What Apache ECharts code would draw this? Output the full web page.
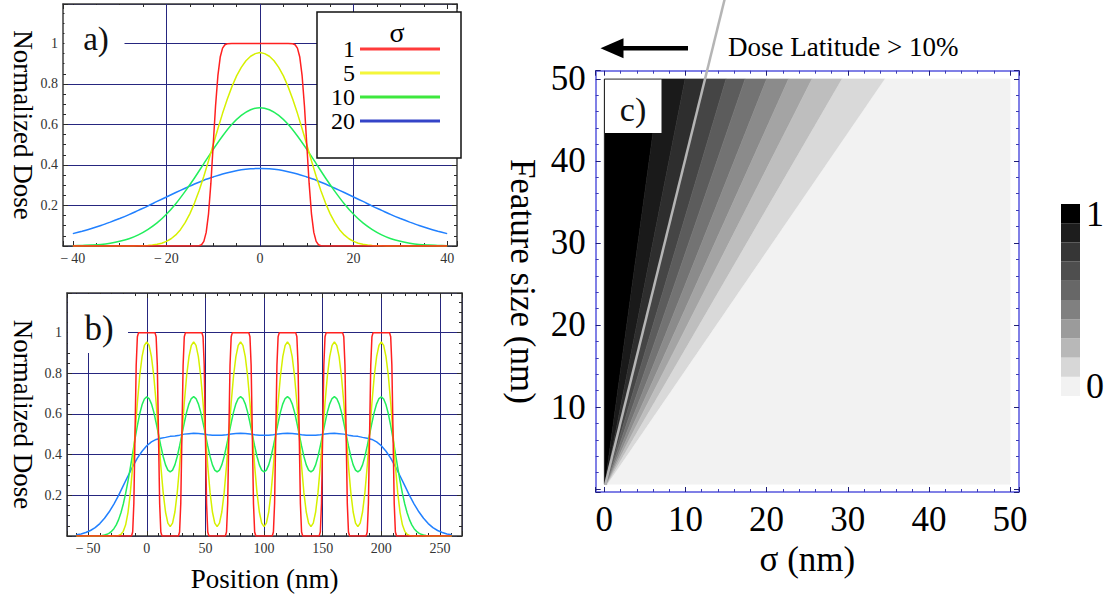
<!DOCTYPE html>
<html>
<head>
<meta charset="utf-8">
<script src="https://cdn.jsdelivr.net/npm/echarts@6/dist/echarts.min.js"></script>
<style>
  html, body { margin: 0; padding: 0; background: #fff; }
  #chart { width: 1108px; height: 599px; }
</style>
</head>
<body>
<div id="chart"></div>
<script>
const SERIF = "'Liberation Serif', 'Times New Roman', serif";

// ---- a) dose across a single 20 nm line, x in nm ----
const aSig1 = [[-40,0],[-14,0],[-13,0.001],[-12.5,0.006],[-12,0.023],[-11.5,0.067],[-11,0.159],[-10.5,0.309],[-10,0.5],
  [-9.5,0.691],[-9,0.841],[-8.5,0.933],[-8,0.977],[-7.5,0.994],[-7,0.999],[-6,1],[6,1],[7,0.999],[7.5,0.994],[8,0.977],
  [8.5,0.933],[9,0.841],[9.5,0.691],[10,0.5],[10.5,0.309],[11,0.159],[11.5,0.067],[12,0.023],[12.5,0.006],[13,0.001],[14,0],[40,0]];
const aSig5 = [[-40,0],[-28,0],[-27,0.0003],[-26,0.0007],[-25,0.0013],[-24,0.0026],[-23,0.0047],[-22,0.0082],[-21,0.0139],
  [-20,0.0228],[-19,0.0359],[-18,0.0548],[-17,0.0808],[-16,0.1151],[-15,0.1587],[-14,0.2119],[-13,0.2743],[-12,0.3446],
  [-11,0.421],[-10,0.5],[-9,0.579],[-8,0.655],[-7,0.725],[-6,0.787],[-5,0.84],[-4,0.882],[-3,0.915],[-2,0.937],[-1,0.95],
  [0,0.955],[1,0.95],[2,0.937],[3,0.915],[4,0.882],[5,0.84],[6,0.787],[7,0.725],[8,0.655],[9,0.579],[10,0.5],[11,0.421],
  [12,0.3446],[13,0.2743],[14,0.2119],[15,0.1587],[16,0.1151],[17,0.0808],[18,0.0548],[19,0.0359],[20,0.0228],[21,0.0139],
  [22,0.0082],[23,0.0047],[24,0.0026],[25,0.0013],[26,0.0007],[27,0.0003],[28,0],[40,0]];
const aX2 = [-40,-38,-36,-34,-32,-30,-28,-26,-24,-22,-20,-18,-16,-14,-12,-10,-8,-6,-4,-2,0,
  2,4,6,8,10,12,14,16,18,20,22,24,26,28,30,32,34,36,38,40];
const aSig10 = [0.001,0.003,0.005,0.008,0.014,0.023,0.036,0.055,0.081,0.114,0.157,0.209,0.270,0.336,0.407,0.477,0.543,0.601,0.645,0.673,
  0.683,
  0.673,0.645,0.601,0.543,0.477,0.407,0.336,0.270,0.209,0.157,0.114,0.081,0.055,0.036,0.023,0.014,0.008,0.005,0.003,0.001];
const aSig20 = [0.061,0.073,0.086,0.101,0.118,0.136,0.155,0.176,0.197,0.220,0.242,0.264,0.285,0.306,0.325,0.341,0.356,0.367,0.376,0.381,
  0.383,
  0.381,0.376,0.367,0.356,0.341,0.325,0.306,0.285,0.264,0.242,0.220,0.197,0.176,0.155,0.136,0.118,0.101,0.086,0.073,0.061];
const aGridX = [-20, 0, 20];

// ---- b) six lines, 40 nm pitch ----
function range(a, b, step) { const r = []; for (let v = a; v <= b; v += step) r.push(v); return r; }
const bX2 = range(-60, 260, 2);
const bX4 = range(-60, 260, 4);
const bSig1 = [[-60,0],
  [-13,0],[-12,0.02],[-11,0.16],[-10,0.5],[-9,0.84],[-8,0.98],[-7,1],[7,1],[8,0.98],[9,0.84],[10,0.5],[11,0.16],[12,0.02],[13,0],
  [27,0],[28,0.02],[29,0.16],[30,0.5],[31,0.84],[32,0.98],[33,1],[47,1],[48,0.98],[49,0.84],[50,0.5],[51,0.16],[52,0.02],[53,0],
  [67,0],[68,0.02],[69,0.16],[70,0.5],[71,0.84],[72,0.98],[73,1],[87,1],[88,0.98],[89,0.84],[90,0.5],[91,0.16],[92,0.02],[93,0],
  [107,0],[108,0.02],[109,0.16],[110,0.5],[111,0.84],[112,0.98],[113,1],[127,1],[128,0.98],[129,0.84],[130,0.5],[131,0.16],[132,0.02],[133,0],
  [147,0],[148,0.02],[149,0.16],[150,0.5],[151,0.84],[152,0.98],[153,1],[167,1],[168,0.98],[169,0.84],[170,0.5],[171,0.16],[172,0.02],[173,0],
  [187,0],[188,0.02],[189,0.16],[190,0.5],[191,0.84],[192,0.98],[193,1],[207,1],[208,0.98],[209,0.84],[210,0.5],[211,0.16],[212,0.02],[213,0],
  [260,0]];
const bSig5 = [
  0,0,0,0,0,0,0,0,0,0,0,0,0,0,0,0,0.0002,0.0007,0.0026,0.0082,0.0228,0.0548,0.1151,0.2119,0.3446,0.5,0.655,0.788,0.882,0.937,
  0.955,
  0.937,0.882,0.787,0.655,0.5,0.345,0.213,0.118,0.063,0.046,0.063,0.118,0.213,0.345,0.5,0.655,0.787,0.882,0.937,0.955,
  0.937,0.882,0.787,0.655,0.5,0.345,0.213,0.118,0.063,0.046,0.063,0.118,0.213,0.345,0.5,0.655,0.787,0.882,0.937,0.955,
  0.937,0.882,0.787,0.655,0.5,0.345,0.213,0.118,0.063,0.046,0.063,0.118,0.213,0.345,0.5,0.655,0.787,0.882,0.937,0.955,
  0.937,0.882,0.787,0.655,0.5,0.345,0.213,0.118,0.063,0.046,0.063,0.118,0.213,0.345,0.5,0.655,0.787,0.882,0.937,0.955,
  0.937,0.882,0.787,0.655,0.5,0.345,0.213,0.118,0.063,0.046,0.063,0.118,0.213,0.345,0.5,0.655,0.787,0.882,0.937,0.955,
  0.937,0.882,0.788,0.655,0.5,0.3446,0.2119,0.1151,0.0548,0.0228,0.0082,0.0026,0.0007,0.0002,0,0,0,0,0,0,0,0,0,0,0,0,0,0,0,0];
const bSig10 = [
  0,0,0,0,0.0001,0.0001,0.0001,0.0002,0.0003,0.0007,0.0013,0.0026,0.0047,0.0082,0.0139,0.0228,0.0359,0.0546,0.0805,0.1144,
  0.1573,0.2093,0.2696,0.3364,0.4068,0.4772,0.543,0.601,0.645,0.674,
  0.684,
  0.676,0.650,0.609,0.557,0.500,0.443,0.391,0.350,0.324,0.315,0.324,0.350,0.391,0.443,0.500,0.557,0.609,0.650,0.676,0.685,
  0.676,0.650,0.609,0.557,0.500,0.443,0.391,0.350,0.324,0.315,0.324,0.350,0.391,0.443,0.500,0.557,0.609,0.650,0.676,0.685,
  0.676,0.650,0.609,0.557,0.500,0.443,0.391,0.350,0.324,0.315,0.324,0.350,0.391,0.443,0.500,0.557,0.609,0.650,0.676,0.685,
  0.676,0.650,0.609,0.557,0.500,0.443,0.391,0.350,0.324,0.315,0.324,0.350,0.391,0.443,0.500,0.557,0.609,0.650,0.676,0.685,
  0.676,0.650,0.609,0.557,0.500,0.443,0.391,0.350,0.324,0.315,0.324,0.350,0.391,0.443,0.500,0.557,0.609,0.650,0.676,0.684,
  0.674,0.645,0.601,0.543,0.4772,0.4068,0.3364,0.2696,0.2093,0.1573,0.1144,0.0805,0.0546,0.0359,0.0228,0.0139,0.0082,0.0047,
  0.0026,0.0013,0.0007,0.0003,0.0002,0.0001,0.0001,0.0001,0,0,0,0];
const bSig20 = [
  0.006,0.010,0.017,0.027,0.041,0.061,0.087,0.119,0.157,0.200,0.248,0.295,0.341,0.383,0.417,
  0.444,0.463,0.475,0.481,0.485,0.490,0.492,0.496,0.501,0.503,0.505,0.504,0.502,0.498,0.496,0.496,
  0.496,0.498,0.502,0.504,0.505,0.504,0.502,0.498,0.496,0.496,
  0.496,0.498,0.502,0.504,0.505,0.504,0.502,0.498,0.496,0.496,
  0.496,0.498,0.502,0.504,0.505,0.503,0.501,0.496,0.492,0.490,0.485,0.481,0.475,0.463,0.444,
  0.417,0.383,0.341,0.295,0.248,0.200,0.157,0.119,0.087,0.061,0.041,0.027,0.017,0.010,0.006];

// ---- c) contour bands: sigma where each contour meets feature size 50 ----
const cBandEdges = [6.9, 9.95, 12.4, 15.0, 17.35, 20.0, 22.7, 25.6, 29.3, 34.6];
const cBandColors = ['#000000','#1a1a1a','#2e2e2e','#454545','#5c5c5c','#737373','#8b8b8b','#a4a4a4','#bebebe','#d9d9d9','#f2f2f2'];
const cLatitude = [[0.1, 0.5], [14.9, 60]];
const cbColors = ['#f2f2f2','#d7d7d7','#b8b8b8','#9b9b9b','#808080','#676767','#4e4e4e','#363636','#1d1d1d','#000000'];
const cbLabels = ['0','','','','','','','','','1'];

const sigmaNames = ['1', '5', '10', '20'];
const lineColors = ['#ff2020', '#d6f000', '#22ee5c', '#2180ff'];
const legendColors = ['#ff3b3b', '#f4f63a', '#3ee83e', '#3444c8'];

const GRIDLINE = '#26267f';
const abStyle = { frame: '#3c3c3c', tick: '#2a2a2a', minor: '#2a2a2a' };
const cStyle = { frame: '#5656de', tick: '#1e1e78', minor: '#3c3cb4' };

function minusFmt(v) { return v < 0 ? '\u2212\u2009' + (-v) : String(v); }

function edgeAxis(gridIndex, position, min, max, minorSplit, st, extra) {
  return Object.assign({
    gridIndex, type: 'value', position, min, max,
    axisLine: { onZero: false, lineStyle: { color: st.frame, width: 1.5 } },
    axisTick: { inside: true, length: 5, lineStyle: { color: st.tick, width: 1 } },
    minorTick: { show: true, splitNumber: minorSplit, length: 3, lineStyle: { color: st.minor, width: 1 } },
    splitLine: { show: false },
    axisLabel: { show: false }
  }, extra || {});
}

const smallLabel = (fmt) => ({
  show: true, fontFamily: SERIF, fontSize: 14, color: '#333', margin: 5,
  showMinLabel: false, showMaxLabel: false, formatter: fmt
});
const doseFmt = (v) => (v === 0 ? '' : String(+v.toFixed(2)));
const bigLabel = (fmt, margin) => ({
  show: true, fontFamily: SERIF, fontSize: 35, color: '#000', margin,
  showMinLabel: false, showMaxLabel: false, formatter: fmt
});
const gridSplit = { show: true, lineStyle: { color: GRIDLINE, width: 1 } };

const A = { min: -42.1, max: 42.1 }, B = { min: -68, max: 268.8 }, Y = { min: 0, max: 1.195 };
const CX = { min: -1.06, max: 51.1 }, CY = { min: -0.36, max: 51.0 };

const xAxes = [
  edgeAxis(0, 'bottom', A.min, A.max, 4, abStyle, { axisLabel: smallLabel(minusFmt) }),
  edgeAxis(0, 'top', A.min, A.max, 4, abStyle),
  edgeAxis(1, 'bottom', B.min, B.max, 5, abStyle, {
    axisLabel: smallLabel(minusFmt), splitLine: gridSplit,
    name: 'Position (nm)', nameLocation: 'middle', nameGap: 29,
    nameTextStyle: { fontFamily: SERIF, fontSize: 27, color: '#000' }
  }),
  edgeAxis(1, 'top', B.min, B.max, 5, abStyle),
  edgeAxis(2, 'bottom', CX.min, CX.max, 5, cStyle, {
    axisLabel: bigLabel((v) => String(v), 10),
    name: '\u03c3 (nm)', nameLocation: 'middle', nameGap: 42,
    nameTextStyle: { fontFamily: SERIF, fontSize: 35, color: '#000' }
  }),
  edgeAxis(2, 'top', CX.min, CX.max, 5, cStyle),
  { gridIndex: 3, type: 'value', min: 0, max: 1, show: false }
];
const yAxes = [
  edgeAxis(0, 'left', Y.min, Y.max, 4, abStyle, {
    axisLabel: smallLabel(doseFmt), splitLine: gridSplit,
    name: 'Normalized Dose', nameLocation: 'middle', nameRotate: -90, nameGap: 27,
    nameTextStyle: { fontFamily: SERIF, fontSize: 27, color: '#000' }
  }),
  edgeAxis(0, 'right', Y.min, Y.max, 4, abStyle),
  edgeAxis(1, 'left', Y.min, Y.max, 4, abStyle, {
    axisLabel: smallLabel(doseFmt), splitLine: gridSplit,
    name: 'Normalized Dose', nameLocation: 'middle', nameRotate: -90, nameGap: 31,
    nameTextStyle: { fontFamily: SERIF, fontSize: 27, color: '#000' }
  }),
  edgeAxis(1, 'right', Y.min, Y.max, 4, abStyle),
  edgeAxis(2, 'left', CY.min, CY.max, 5, cStyle, {
    axisLabel: bigLabel((v) => (v === 0 ? '' : String(v)), 10),
    name: 'Feature size (nm)', nameLocation: 'middle', nameRotate: -90, nameGap: 56,
    nameTextStyle: { fontFamily: SERIF, fontSize: 35, color: '#000' }
  }),
  edgeAxis(2, 'right', CY.min, CY.max, 5, cStyle),
  {
    gridIndex: 3, type: 'category', position: 'right', data: cbLabels,
    axisLine: { show: false }, axisTick: { show: false },
    axisLabel: { interval: 0, fontFamily: SERIF, fontSize: 36, color: '#000', margin: 6 }
  }
];

function doseLine(i, xi, yi, data, extra) {
  return Object.assign({
    name: sigmaNames[i], type: 'line', xAxisIndex: xi, yAxisIndex: yi, data,
    symbol: 'none', showSymbol: false, animation: false,
    lineStyle: { color: lineColors[i], width: 1.5 },
    itemStyle: { color: lineColors[i] }
  }, extra || {});
}

const series = [
  doseLine(3, 0, 0, aX2.map((x, i) => [x, aSig20[i]]), {
    smooth: 0.3,
    markLine: {
      silent: true, symbol: 'none', z: 1, label: { show: false }, animation: false,
      lineStyle: { color: GRIDLINE, width: 1, type: 'solid' },
      data: aGridX.map((x) => ({ xAxis: x }))
    }
  }),
  doseLine(2, 0, 0, aX2.map((x, i) => [x, aSig10[i]]), { smooth: 0.3 }),
  doseLine(1, 0, 0, aSig5),
  doseLine(0, 0, 0, aSig1),
  doseLine(3, 2, 2, bX4.map((x, i) => [x, bSig20[i]])),
  doseLine(2, 2, 2, bX2.map((x, i) => [x, bSig10[i]])),
  doseLine(1, 2, 2, bX2.map((x, i) => [x, bSig5[i]])),
  doseLine(0, 2, 2, bSig1),
  {
    type: 'custom', xAxisIndex: 4, yAxisIndex: 4, animation: false, silent: true,
    data: cBandColors.map((c, i) => [i === 0 ? 0 : cBandEdges[i - 1], i < cBandEdges.length ? cBandEdges[i] : -1]),
    renderItem(params, api) {
      const F0 = 0.6, F1 = 50, S1 = 50;
      const left = api.value(0), right = api.value(1);
      const kL = left / F1;
      const pts = right < 0
        ? [[kL * F0, F0], [S1, F0], [S1, F1], [left, F1]]
        : [[kL * F0, F0], [right / F1 * F0, F0], [right, F1], [left, F1]];
      const col = cBandColors[params.dataIndex];
      return {
        type: 'polygon',
        shape: { points: pts.map((p) => api.coord(p)) },
        style: { fill: col, stroke: col, lineWidth: 0.6 }
      };
    }
  },
  {
    type: 'line', xAxisIndex: 4, yAxisIndex: 4, data: cLatitude, clip: false, z: 6,
    symbol: 'none', animation: false, silent: true,
    lineStyle: { color: '#b5b5b5', width: 2.5 }
  },
  {
    type: 'bar', xAxisIndex: 6, yAxisIndex: 6, barWidth: '100%', animation: false, silent: true,
    data: cbColors.map((c) => ({ value: 1, itemStyle: { color: c } }))
  }
];

const graphic = [
  { type: 'rect', z: 10, shape: { x: 64.5, y: 5, width: 60, height: 60 }, style: { fill: '#fff' } },
  { type: 'text', z: 11, x: 96, y: 39, style: { text: 'a)', fontFamily: SERIF, fontSize: 33, fill: '#111', align: 'center', verticalAlign: 'middle' } },
  { type: 'rect', z: 10, shape: { x: 68, y: 294, width: 60, height: 59 }, style: { fill: '#fff' } },
  { type: 'text', z: 11, x: 99, y: 328, style: { text: 'b)', fontFamily: SERIF, fontSize: 35, fill: '#111', align: 'center', verticalAlign: 'middle' } },
  { type: 'rect', z: 10, shape: { x: 605, y: 79.5, width: 56.5, height: 53.5 }, style: { fill: '#fff' } },
  { type: 'text', z: 11, x: 633, y: 109, style: { text: 'c)', fontFamily: SERIF, fontSize: 34, fill: '#111', align: 'center', verticalAlign: 'middle' } },
  { type: 'text', z: 11, x: 397, y: 32, style: { text: '\u03c3', fontFamily: SERIF, fontSize: 28, fill: '#000', align: 'center', verticalAlign: 'middle' } },
  { type: 'line', z: 11, shape: { x1: 688, y1: 48.3, x2: 618, y2: 48.3 }, style: { stroke: '#000', lineWidth: 4.6 } },
  { type: 'polygon', z: 11, shape: { points: [[600.5, 48.3], [623.5, 38.3], [623.5, 58.3]] }, style: { fill: '#000' } },
  { type: 'text', z: 11, x: 728, y: 47, style: { text: 'Dose Latitude > 10%', fontFamily: SERIF, fontSize: 27, fill: '#000', align: 'left', verticalAlign: 'middle' } }
];

const chart = echarts.init(document.getElementById('chart'), null, { renderer: 'svg' });
chart.setOption({
  animation: false,
  backgroundColor: '#fff',
  grid: [
    { left: 63, top: 4, width: 394, height: 242 },
    { left: 67, top: 293, width: 395, height: 243 },
    { left: 595.7, top: 70.7, width: 423.3, height: 421.3 },
    { left: 1061, top: 204, width: 19, height: 192 }
  ],
  xAxis: xAxes,
  yAxis: yAxes,
  legend: {
    orient: 'vertical', left: 317, top: 12, align: 'right',
    padding: [25, 21, 25, 14], itemGap: 0, itemWidth: 80, itemHeight: 3,
    icon: 'rect',
    backgroundColor: '#fff', borderColor: '#111', borderWidth: 1.5,
    selectedMode: false,
    textStyle: { fontFamily: SERIF, fontSize: 24, color: '#000', lineHeight: 24 },
    data: sigmaNames.map((n, i) => ({ name: n, itemStyle: { color: legendColors[i] } }))
  },
  series,
  graphic
});
</script>
</body>
</html>
